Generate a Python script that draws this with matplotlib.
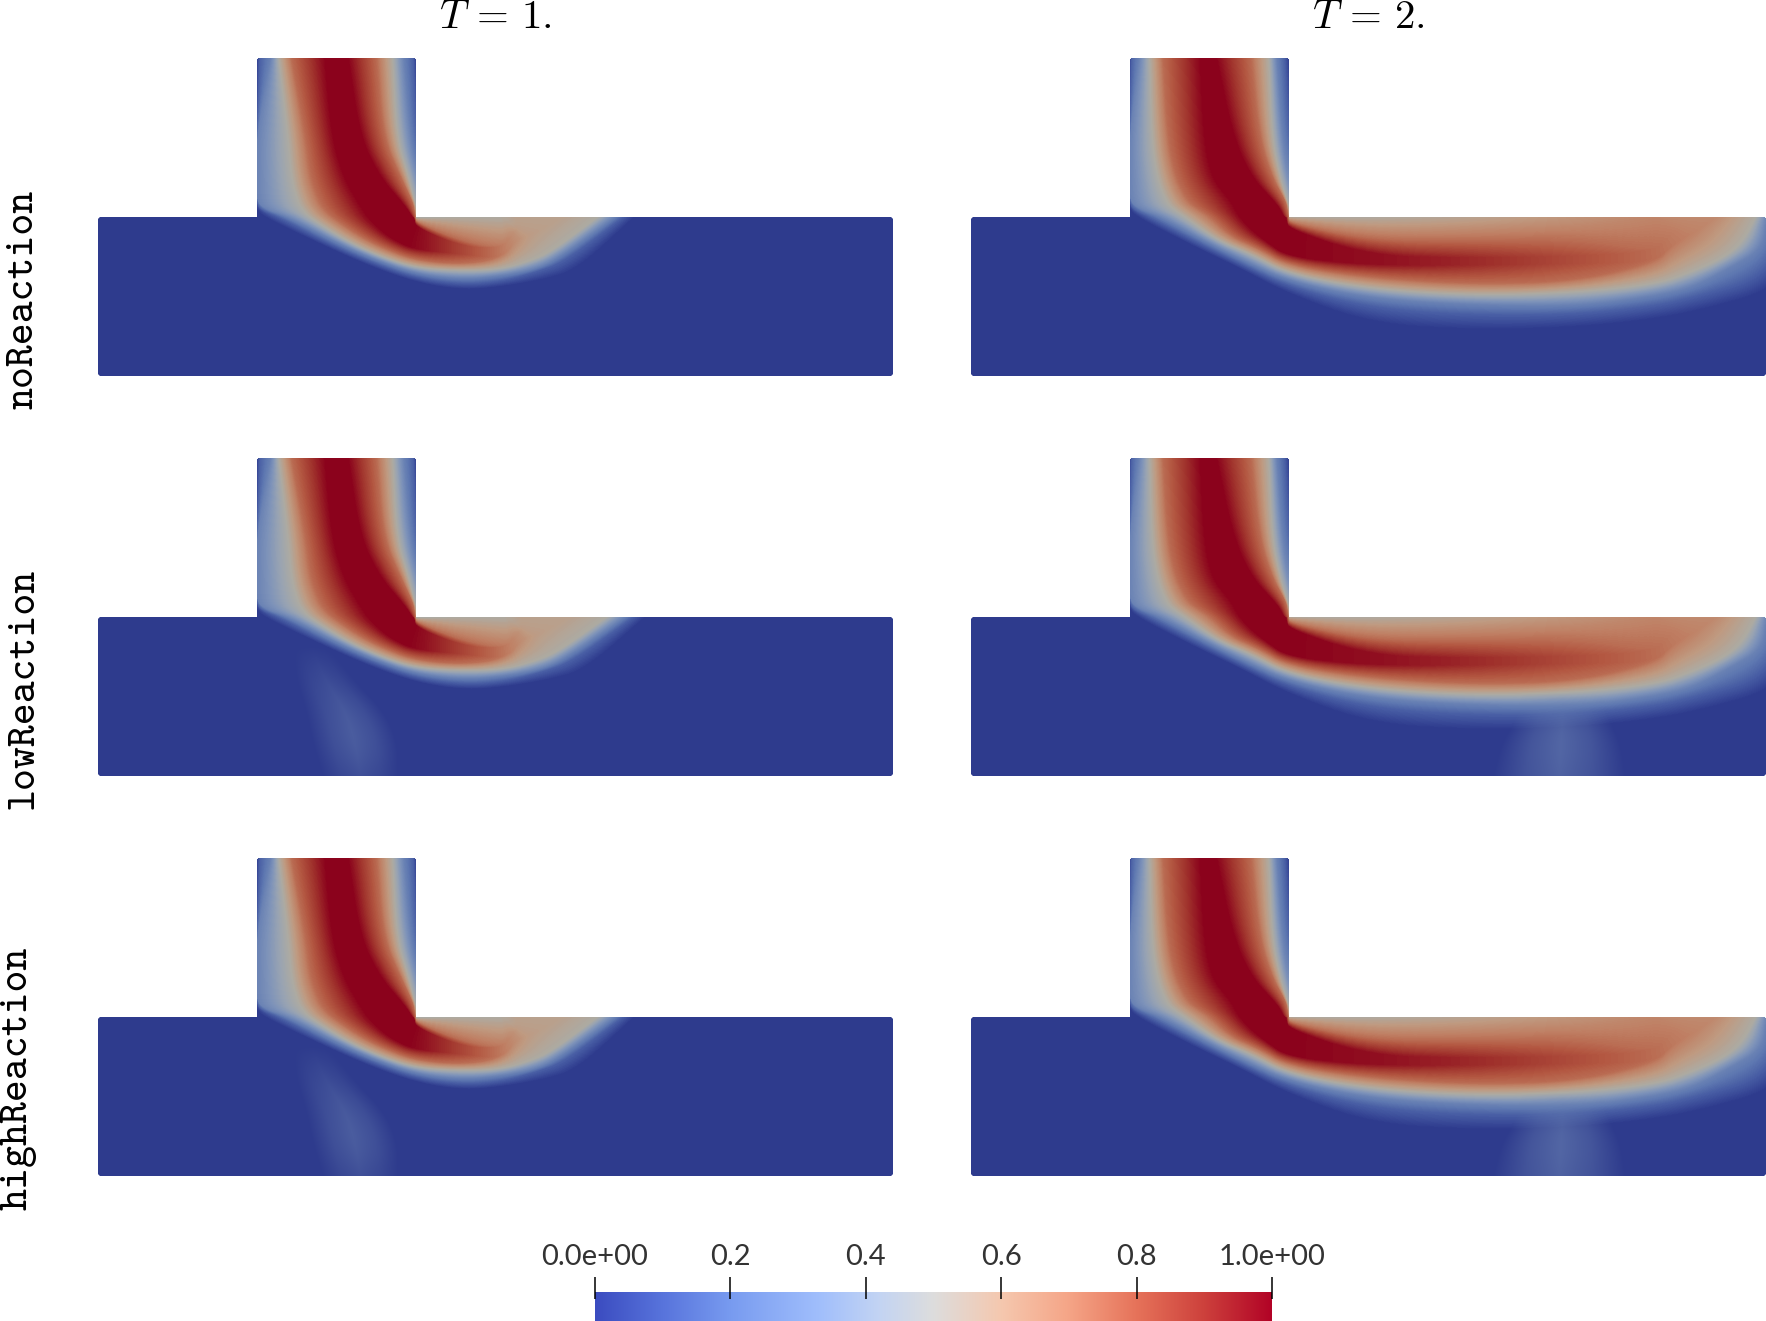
"""
Concentration snapshots in a T-shaped channel at two times and three reaction
rates. Each plume is drawn from a stream-following mesh: stations cross the
stream, and every station stores where the iso-levels sit along it.
"""

import numpy as np
import matplotlib
matplotlib.use("Agg")
import matplotlib.pyplot as plt
import matplotlib.tri as mtri
from matplotlib.colors import LinearSegmentedColormap
from matplotlib.patches import Polygon

plt.rcParams["mathtext.fontset"] = "cm"

TIME_LABELS = [r"$T\,=\,1.$", r"$T\,=\,2.$"]
ROW_LABELS = ["noReaction", "lowReaction", "highReaction"]
BAR_TICKS = [0.0, 0.2, 0.4, 0.6, 0.8, 1.0]
BAR_LABELS = ["0.0e+00", "0.2", "0.4", "0.6", "0.8", "1.0e+00"]

# cool-warm table of the colour bar
CMAP_POS = [0.0, 0.1, 0.2, 0.33, 0.42, 0.5, 0.6, 0.7, 0.8, 0.9, 1.0]
CMAP_RGB = [(59, 76, 192), (88, 116, 220), (120, 155, 240), (160, 190, 252), (195, 212, 243),
            (221, 221, 221), (245, 200, 175), (245, 165, 135), (230, 115, 90), (205, 65, 60),
            (178, 3, 38)]
FIELD_SHADE = (0.78, 0.77, 0.735)

# iso-levels crossed from the outer side of the stream to the inner wall
LEFT_LEVELS = [0.0, 0.12, 0.25, 0.5, 0.75]
RIGHT_LEVELS = [0.75, 0.5, 0.25, 0.12]

# T = 1 stations, x/y in channel widths
T1_OUTER_X = [1, 1, 1, 1, 1, 1, 1.1, 1.3, 2, 2.29, 2.535, 3, 3.4, 3.5]
T1_OUTER_Y = [2, 1.5, 1.25, 1.1, 1.05, 1, 0.7, 0.3, 0, 0, 0, 0.3, 0.4, 1]
T1_INNER_X = [2, 2, 2, 2, 2, 2, 2, 2, 2, 2.29, 2.535, 2.535, 2.535, 2.535]
T1_INNER_Y = [2, 1.5, 1.25, 1.1, 1.05, 1, 1, 1, 1, 1, 1, 1, 1, 1]
T1_PEAK = [1, 1, 1, 1, 1, 1, 1, 1, 1, 0.85, 0.72, 0.65, 0.58, 0.56]
T1_WALL = [0, 0.12, 0.3, 0.45, 0.5, 0.5, 0.5, 0.48, 0.48, 0.49, 0.5, 0.5, 0.52, 0.5]
T1_FRACTIONS = [
    [0, 0.02, 0.09, 0.14, 0.22, 0.43, 0.57, 0.75, 0.85, 0.92, 0.98],
    [0, 0, 0, 0.2, 0.31, 0.475, 0.645, 0.79, 0.875, 0.96, 1],
    [0, 0, 0, 0.22, 0.34, 0.55, 0.77, 0.9, 0.95, 1, 1],
    [0, 0, 0, 0.26, 0.396, 0.637, 0.9, 0.973, 0.987, 1, 1],
    [0, 0.02, 0.06, 0.29, 0.43, 0.669, 0.94, 0.985, 1, 1, 1],
    [0.05, 0.145, 0.21, 0.333, 0.48, 0.7, 0.973, 0.995, 1, 1, 1],
    [0.38, 0.42, 0.46, 0.515, 0.61, 0.75, 0.98, 0.99, 1, 1, 1],
    [0.57, 0.6, 0.625, 0.66, 0.72, 0.8, 0.98, 0.99, 1, 1, 1],
    [0.591, 0.62, 0.646, 0.683, 0.73, 0.797, 0.929, 0.96, 0.99, 1, 1],
    [0.543, 0.58, 0.612, 0.665, 0.706, 0.77, 0.81, 0.843, 1, 1, 1],
    [0.564, 0.6, 0.633, 0.675, 0.74, 0.74, 0.8, 0.8, 1, 1, 1],
    [0.44, 0.513, 0.537, 0.61, 0.8, 0.8, 0.85, 0.85, 1, 1, 1],
    [0.45, 0.54, 0.58, 0.64, 0.8, 0.8, 0.88, 0.88, 1, 1, 1],
    [0.137, 0.213, 0.267, 0.376, 0.6, 0.6, 0.9, 0.9, 1, 1, 1],
]

# T = 2 stations
T2_OUTER_X = [1, 1, 1, 1, 1, 1, 1.1, 1.3, 2, 2.52, 3.165, 3.81, 4.3, 4.8, 5.2, 5.15, 5.1]
T2_OUTER_Y = [2, 1.5, 1.25, 1.1, 1.05, 1, 0.7, 0.3, 0, 0, 0, 0, 0, 0.1, 0.45, 0.75, 1]
T2_INNER_X = [2, 2, 2, 2, 2, 2, 2, 2, 2, 2.52, 3.165, 3.81, 4.3, 4.3, 4.3, 4.3, 4.3]
T2_INNER_Y = [2, 1.5, 1.25, 1.1, 1.05, 1, 1, 1, 1, 1, 1, 1, 1, 1, 1, 1, 1]
T2_PEAK = [1, 1, 1, 1, 1, 1, 1, 1, 1, 0.98, 0.92, 0.83, 0.75, 0.72, 0.7, 0.68, 0.66]
T2_WALL = [0, 0.12, 0.3, 0.45, 0.5, 0.5, 0.5, 0.48, 0.48, 0.5, 0.55, 0.62, 0.68, 0.68, 0.68, 0.68, 0.66]
T2_FRACTIONS = [
    [0, 0.01, 0.06, 0.127, 0.21, 0.445, 0.54, 0.76, 0.87, 0.92, 0.97],
    [0, 0, 0, 0.14, 0.24, 0.47, 0.645, 0.81, 0.89, 0.955, 1],
    [0, 0, 0, 0.175, 0.29, 0.516, 0.76, 0.89, 0.94, 0.987, 1],
    [0, 0, 0, 0.23, 0.37, 0.64, 0.9, 0.975, 0.985, 1, 1],
    [0, 0.02, 0.07, 0.28, 0.44, 0.665, 0.94, 0.985, 1, 1, 1],
    [0.05, 0.13, 0.21, 0.354, 0.516, 0.695, 0.965, 0.995, 1, 1, 1],
    [0.36, 0.41, 0.45, 0.51, 0.6, 0.74, 0.98, 0.99, 1, 1, 1],
    [0.55, 0.58, 0.61, 0.67, 0.725, 0.79, 0.97, 0.99, 1, 1, 1],
    [0.519, 0.565, 0.6, 0.645, 0.697, 0.75, 0.918, 0.956, 1, 1, 1],
    [0.33, 0.43, 0.49, 0.55, 0.62, 0.7, 0.75, 0.85, 1, 1, 1],
    [0.29, 0.385, 0.45, 0.51, 0.58, 0.7, 0.74, 0.85, 1, 1, 1],
    [0.308, 0.392, 0.444, 0.528, 0.6, 0.71, 0.75, 0.853, 1, 1, 1],
    [0.36, 0.444, 0.507, 0.58, 0.72, 0.72, 0.78, 0.78, 1, 1, 1],
    [0.36, 0.453, 0.516, 0.605, 0.8, 0.8, 0.85, 0.85, 1, 1, 1],
    [0.17, 0.3, 0.45, 0.53, 0.78, 0.78, 0.85, 0.85, 1, 1, 1],
    [0.03, 0.1, 0.21, 0.357, 0.68, 0.68, 0.8, 0.8, 1, 1, 1],
    [0, 0.07, 0.12, 0.21, 0.51, 0.51, 0.75, 0.75, 1, 1, 1],
]

# how far the front runs past the inlet corner, per reaction rate
T1_FRONT_STRETCH = [1.0, 1.05, 1.0]
T2_FRONT_STRETCH = [1.0, 1.0, 1.0]

# faint product plume below the stream, only with reaction
T1_PLUME_Y = [0.82, 0.62, 0.4, 0.2, 0.0]
T1_PLUME_X = [1.34, 1.42, 1.56, 1.62, 1.65]
T1_PLUME_HALF = [0.12, 0.18, 0.25, 0.27, 0.24]
T1_PLUME_VALUE = [0.0, 0.06, 0.115, 0.125, 0.075]
T2_PLUME_Y = [0.52, 0.33, 0.2, 0.0]
T2_PLUME_X = [3.72, 3.72, 3.71, 3.7]
T2_PLUME_HALF = [0.26, 0.31, 0.38, 0.42]
T2_PLUME_VALUE = [0.0, 0.14, 0.16, 0.14]
PLUME_OFFSETS = [-1.0, -0.5, 0.0, 0.5, 1.0]
PLUME_PROFILE = [0.0, 0.62, 1.0, 0.62, 0.0]

# channel outline with its slightly chamfered corners
T_SHAPE = [(0.012, 0), (4.988, 0), (5, 0.012), (5, 0.988), (4.988, 1), (2, 1), (2, 1.988), (1.988, 2),
           (1.012, 2), (1, 1.988), (1, 1), (0.012, 1), (0, 0.988), (0, 0.012)]

WIDTH, HEIGHT = 1766, 1321
COL_LEFT = [98, 971]
ROW_TOP = [58, 458, 858]
PANEL_W, PANEL_H = 795, 318

bar_cmap = LinearSegmentedColormap.from_list(
    "bar", [(p, tuple(c / 255 for c in rgb)) for p, rgb in zip(CMAP_POS, CMAP_RGB)], N=512)
field_cmap = LinearSegmentedColormap.from_list(
    "field", [(p, tuple(c / 255 * s for c, s in zip(rgb, FIELD_SHADE)))
              for p, rgb in zip(CMAP_POS, CMAP_RGB)], N=512)


def round_stations(a, passes=3):
    """Corner-cut along the stations so the iso-lines do not show kinks."""
    for _ in range(passes):
        first, last = a[:1], a[-1:]
        q = 0.75 * a[:-1] + 0.25 * a[1:]
        r = 0.25 * a[:-1] + 0.75 * a[1:]
        mid = np.empty((2 * len(q),) + a.shape[1:])
        mid[0::2] = q
        mid[1::2] = r
        a = np.concatenate([first, mid, last])
    return a


def stream_mesh(outer_x, outer_y, inner_x, inner_y, fractions, peak, wall, stretch):
    """Turn the station tables into mesh coordinates and values."""
    frac = np.array(fractions, dtype=float)
    frac = np.column_stack([frac, np.ones(len(frac))])
    peak = np.array(peak, dtype=float)[:, None]
    wall = np.array(wall, dtype=float)[:, None]

    left = np.minimum(np.array(LEFT_LEVELS)[None, :], peak)
    crest = np.hstack([peak, peak])
    right = np.maximum(np.minimum(np.array(RIGHT_LEVELS)[None, :], peak), wall)
    values = np.hstack([left, crest, right, wall])

    ox, oy = np.array(outer_x, float)[:, None], np.array(outer_y, float)[:, None]
    ix, iy = np.array(inner_x, float)[:, None], np.array(inner_y, float)[:, None]
    x = ox + frac * (ix - ox)
    y = oy + frac * (iy - oy)
    x = np.where(x > 2, 2 + (x - 2) * stretch, x)
    return round_stations(x), round_stations(y), round_stations(values)


def plume_mesh(py, px, half, value):
    """Mesh for a plume that fades out sideways and at its top."""
    py, px, half, value = map(np.array, (py, px, half, value))
    offsets = np.array(PLUME_OFFSETS)
    x = px[:, None] + half[:, None] * offsets[None, :]
    y = np.repeat(py[:, None], len(offsets), axis=1)
    c = value[:, None] * np.array(PLUME_PROFILE)[None, :]
    return round_stations(x), round_stations(y), round_stations(c)


def mesh_triangulation(x, y):
    """Split the structured mesh into triangles, dropping collapsed ones."""
    n, m = x.shape
    ids = np.arange(n * m).reshape(n, m)
    a, b, c, d = ids[:-1, :-1].ravel(), ids[1:, :-1].ravel(), ids[1:, 1:].ravel(), ids[:-1, 1:].ravel()
    tris = np.vstack([np.column_stack([a, b, c]), np.column_stack([a, c, d])])
    px, py = x.ravel(), y.ravel()
    area = 0.5 * np.abs((px[tris[:, 1]] - px[tris[:, 0]]) * (py[tris[:, 2]] - py[tris[:, 0]])
                        - (px[tris[:, 2]] - px[tris[:, 0]]) * (py[tris[:, 1]] - py[tris[:, 0]]))
    return mtri.Triangulation(px, py, triangles=tris[area > 1e-9])


def plume_overlay(ax, plume, shape):
    """Lay the plume over the stream as a pale wash, stronger where it is denser."""
    x, y, z = plume
    interp = mtri.LinearTriInterpolator(mesh_triangulation(x, y), z.ravel())
    gx, gy = np.meshgrid((np.arange(PANEL_W) + 0.5) * 5 / PANEL_W, (np.arange(PANEL_H) + 0.5) * 2 / PANEL_H)
    values = np.ma.filled(interp(gx, gy), 0.0)
    rgba = np.zeros(values.shape + (4,))
    rgba[...] = field_cmap(0.25)
    rgba[..., 3] = np.clip(values / 0.25, 0, 1)
    im = ax.imshow(rgba, origin="lower", extent=(0, 5, 0, 2), aspect="auto",
                   interpolation="nearest", zorder=3)
    im.set_clip_path(shape)


def draw_panel(ax, stream, plume):
    ax.axis("off")
    shape = Polygon(T_SHAPE, closed=True, facecolor=field_cmap(0.0), edgecolor="none", zorder=1)
    ax.add_patch(shape)
    x, y, z = stream
    cs = ax.tricontourf(mesh_triangulation(x, y), z.ravel(), levels=np.linspace(-0.002, 1.002, 161),
                        cmap=field_cmap, vmin=0, vmax=1, antialiased=False, zorder=2)
    cs.set_clip_path(shape)
    if plume is not None:
        plume_overlay(ax, plume, shape)
    ax.set_xlim(0, 5)
    ax.set_ylim(0, 2)


fig = plt.figure(figsize=(WIDTH / 100, HEIGHT / 100), dpi=100)

streams = [
    (T1_OUTER_X, T1_OUTER_Y, T1_INNER_X, T1_INNER_Y, T1_FRACTIONS, T1_PEAK, T1_WALL, T1_FRONT_STRETCH),
    (T2_OUTER_X, T2_OUTER_Y, T2_INNER_X, T2_INNER_Y, T2_FRACTIONS, T2_PEAK, T2_WALL, T2_FRONT_STRETCH),
]
plumes = [
    (T1_PLUME_Y, T1_PLUME_X, T1_PLUME_HALF, T1_PLUME_VALUE),
    (T2_PLUME_Y, T2_PLUME_X, T2_PLUME_HALF, T2_PLUME_VALUE),
]

for c, left in enumerate(COL_LEFT):
    fig.text((left + PANEL_W / 2) / WIDTH, 1 - 28 / HEIGHT, TIME_LABELS[c],
             fontsize=29.5, ha="center", va="baseline", color="black")
    for r, top in enumerate(ROW_TOP):
        ax = fig.add_axes([left / WIDTH, 1 - (top + PANEL_H) / HEIGHT, PANEL_W / WIDTH, PANEL_H / HEIGHT])
        table = streams[c]
        stream = stream_mesh(*table[:7], table[7][r])
        plume = plume_mesh(*plumes[c]) if r > 0 else None
        draw_panel(ax, stream, plume)

# row names, rotated along the left edge
label_x = [33, 33, 27]
label_y = [299, 688, 1078]
for name, lx, ly in zip(ROW_LABELS, label_x, label_y):
    fig.text(lx / WIDTH, 1 - ly / HEIGHT, name, family="cmtt10", fontsize=30.1,
             rotation=90, rotation_mode="anchor", ha="center", va="baseline", color="black")

# colour bar with its ticks poking out above
bar_left, bar_right, bar_top, bar_bottom = 595, 1272, 1292, 1321
cax = fig.add_axes([bar_left / WIDTH, 0, (bar_right - bar_left) / WIDTH, (bar_bottom - bar_top) / HEIGHT])
cax.imshow(np.linspace(0, 1, 512)[None, :], cmap=bar_cmap, aspect="auto", extent=(0, 1, 0, 1), vmin=0, vmax=1)
cax.set_xlim(0, 1)
cax.set_ylim(0, 1)
cax.axis("off")
cax.vlines(BAR_TICKS, 0.76, 1.52, color="black", linewidth=1.1, clip_on=False, zorder=5)
for tick, label in zip(BAR_TICKS, BAR_LABELS):
    cax.text(tick, 1.93, label, family="Lato", fontsize=21, color="#333333",
             ha="center", va="baseline", clip_on=False)

fig.savefig("out.png", dpi=100, facecolor="white")
